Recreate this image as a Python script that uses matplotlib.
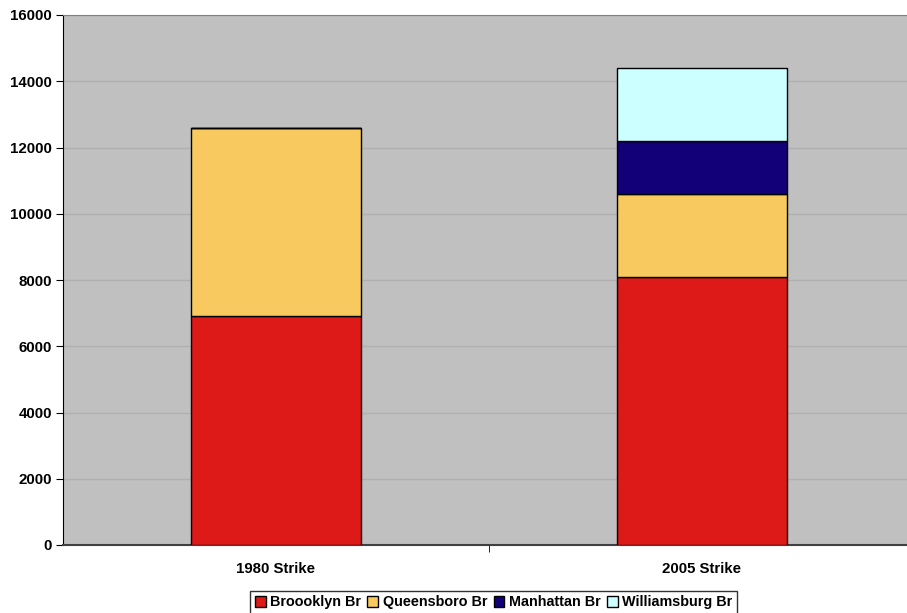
import numpy as np
from matplotlib import pyplot as plt

categories = ['1980 Strike', '2005 Strike']
series_names = ['Broooklyn Br', 'Queensboro Br', 'Manhattan Br', 'Williamsburg Br']
brooklyn = [6900, 8100]
queensboro = [5700, 2500]
manhattan = [0, 1600]
williamsburg = [0, 2200]
colors = ['#dd1a18', '#f7c95e', '#120078', '#ccffff']
yticks = [0, 2000, 4000, 6000, 8000, 10000, 12000, 14000, 16000]

plt.rcParams['font.family'] = ['Liberation Sans', 'DejaVu Sans']
plt.rcParams['font.weight'] = 'bold'

fig = plt.figure(figsize=(9.07, 6.13), dpi=100)
ax = fig.add_axes([63 / 907, 1 - 545 / 613, 852 / 907, 530 / 613])
ax.set_facecolor('#c0c0c0')

x = np.arange(len(categories))
bottom = np.zeros(len(categories))
handles = []
for name, vals, c in zip(series_names, [brooklyn, queensboro, manhattan, williamsburg], colors):
    vals = np.array(vals, dtype=float)
    h = ax.bar(x, vals, 0.4, bottom=bottom, color=c, edgecolor='black', linewidth=1.0,
               label=name, zorder=3)
    handles.append(h)
    bottom += vals

ax.set_xlim(-0.5, 1.5)
ax.set_ylim(0, 16000)
ax.set_yticks(yticks)
ax.set_yticklabels([str(v) for v in yticks], fontsize=10.8, fontweight='bold')
ax.set_xticks(x)
ax.set_xticklabels(categories, fontsize=10.8, fontweight='bold')
ax.set_xticks([0.5], minor=True)
ax.tick_params(axis='x', which='major', length=0, pad=12)
ax.tick_params(axis='x', which='minor', length=5, direction='out', color='black')
ax.tick_params(axis='y', length=5, direction='out', pad=3)
ax.yaxis.grid(True, color='#b0b0b0', linewidth=1, zorder=0)
ax.set_axisbelow(True)

ax.spines['top'].set_color('#808080')
ax.spines['right'].set_visible(False)
ax.spines['left'].set_color('black')
ax.spines['bottom'].set_color('#404040')
ax.spines['bottom'].set_linewidth(1.5)

leg = fig.legend(handles=handles, labels=series_names, loc='upper center',
                 bbox_to_anchor=(493.5 / 907, 1 - 591 / 613), ncol=4, frameon=True,
                 fancybox=False, edgecolor='black', fontsize=10.4,
                 handlelength=0.75, handleheight=0.75, handletextpad=0.3,
                 columnspacing=0.45, borderpad=0.3, borderaxespad=0)
leg.get_frame().set_linewidth(1.0)

fig.savefig('out.png', dpi=100)
